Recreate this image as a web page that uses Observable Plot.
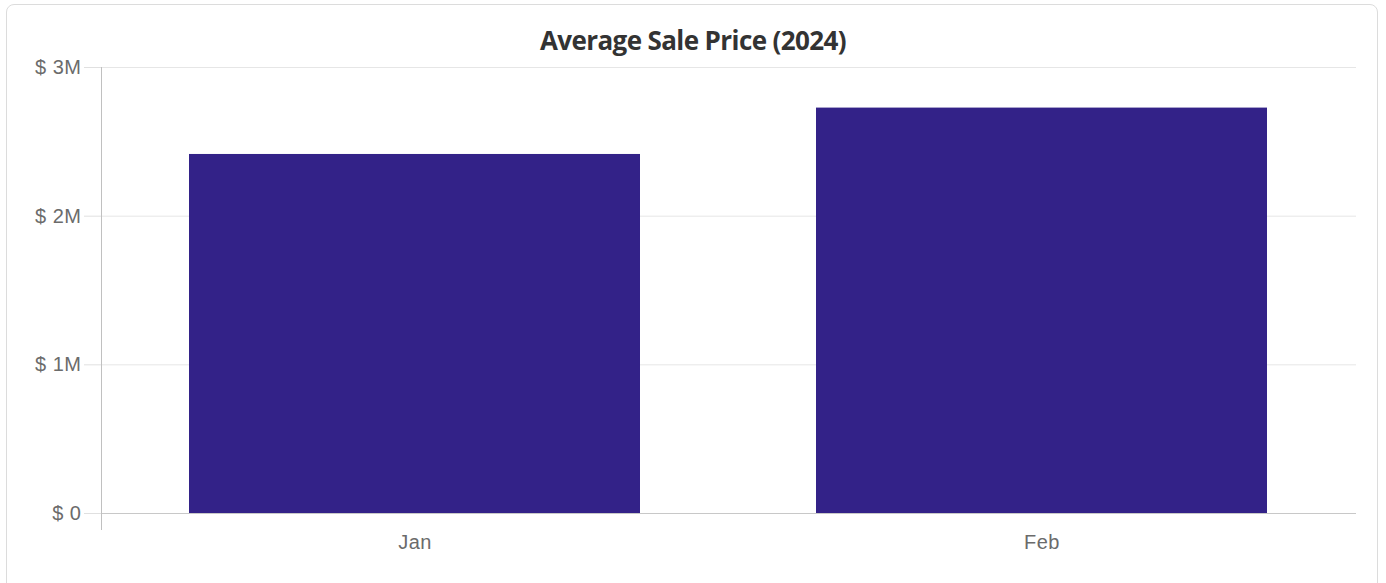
<!DOCTYPE html>
<html>
<head>
<meta charset="utf-8">
<script src="https://cdn.jsdelivr.net/npm/d3@7"></script>
<script src="https://cdn.jsdelivr.net/npm/@observablehq/plot@0.6"></script>
<style>
  html, body { margin: 0; padding: 0; background: #fff; width: 1386px; height: 583px; overflow: hidden; }
  #card { position: absolute; left: 6px; top: 4px; width: 1372px; height: 600px; border: 1px solid #dcdcdc; border-radius: 8px; box-sizing: border-box; }
  #title { position: absolute; left: 0; top: 22px; width: 1386px; text-align: center; font-family: "Open Sans", sans-serif; font-weight: 700; font-size: 26px; line-height: 36px; color: #333; letter-spacing: -0.6px; }
  #chart { position: absolute; left: 0; top: 0; }
  #chart svg text { letter-spacing: 0.5px; }
</style>
</head>
<body>
<div id="card"></div>
<div id="chart"></div>
<div id="title">Average Sale Price (2024)</div>
<script>
const months = ["Jan", "Feb"];
const prices = [2415000, 2727000];
const yTicks = [0, 1000000, 2000000, 3000000];
const yTickLabels = ["$ 0", "$ 1M", "$ 2M", "$ 3M"];

const data = months.map((m, i) => ({month: m, price: prices[i]}));

const chart = Plot.plot({
  width: 1386,
  height: 583,
  marginLeft: 101,
  marginRight: 30,
  marginTop: 67,
  marginBottom: 70,
  style: {fontFamily: "'Liberation Sans', Arial, sans-serif", fontSize: "20px", background: "transparent", overflow: "visible"},
  x: {domain: months, paddingInner: 0.28, paddingOuter: 0.14},
  y: {domain: [0, 3000000]},
  marks: [
    Plot.gridY(yTicks, {stroke: "#e6e6e6", strokeOpacity: 1}),
    Plot.barY(data, {x: "month", y: "price", fill: "#332288"}),
    Plot.ruleY([0], {stroke: "#c8c8c8"}),
    Plot.frame({anchor: "left", stroke: "#c0c0c0", insetBottom: -16}),
    Plot.axisY(yTicks, {
      tickSize: 17, tickPadding: 3, stroke: "#e0e0e0", fill: "#6b6b6b",
      tickFormat: d => yTickLabels[yTicks.indexOf(d)], label: null, fontSize: 20
    }),
    Plot.axisX({tickSize: 0, tickPadding: 21, fill: "#6b6b6b", label: null, fontSize: 20})
  ]
});
document.getElementById("chart").appendChild(chart);
</script>
</body>
</html>
